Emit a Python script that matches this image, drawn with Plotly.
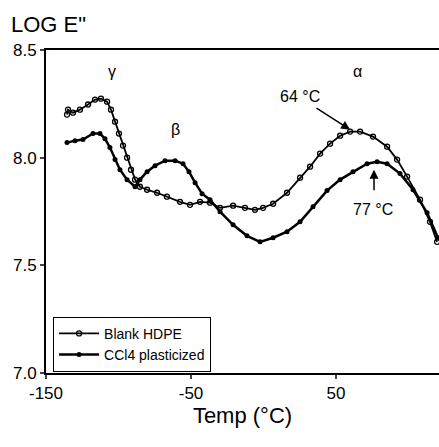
import plotly.graph_objects as go

blank_temp = [-135.5, -134.8, -131.4, -126.6, -121.0, -116.2, -112.1, -107.9, -105.2, -102.4,
              -99.7, -96.9, -94.1, -91.4, -88.6, -85.2, -80.3, -73.4, -66.6, -57.6,
              -50.7, -43.8, -36.9, -30.0, -21.0, -12.8, -5.9, -0.3, 6.6, 16.2,
              25.2, 32.1, 39.0, 45.9, 52.8, 59.7, 66.6, 75.5, 85.2, 92.1,
              99.0, 107.9, 114.8, 119.7]
blank_loge = [8.20, 8.223, 8.209, 8.223, 8.247, 8.270, 8.274, 8.260, 8.223, 8.167,
              8.112, 8.056, 8.0, 7.944, 7.898, 7.865, 7.851, 7.837, 7.819, 7.795,
              7.781, 7.795, 7.791, 7.767, 7.777, 7.767, 7.758, 7.767, 7.786, 7.837,
              7.907, 7.958, 8.019, 8.065, 8.102, 8.121, 8.121, 8.098, 8.051, 7.991,
              7.912, 7.805, 7.702, 7.609]

ccl4_temp = [-135.5, -130.0, -124.5, -117.6, -112.8, -109.3, -105.9, -102.4, -99.0, -94.1,
             -88.6, -85.2, -80.3, -74.8, -67.9, -61.0, -55.5, -51.4, -47.2, -42.4,
             -36.9, -30.0, -21.0, -11.4, -2.4, 6.6, 16.2, 25.2, 34.1, 43.8,
             52.8, 61.7, 71.4, 78.3, 85.2, 94.1, 103.1, 112.8, 120.3]
ccl4_loge = [8.070, 8.079, 8.084, 8.112, 8.112, 8.088, 8.047, 7.991, 7.944, 7.898,
             7.865, 7.898, 7.935, 7.963, 7.986, 7.986, 7.972, 7.935, 7.884, 7.833,
             7.805, 7.749, 7.688, 7.637, 7.609, 7.628, 7.656, 7.702, 7.772, 7.847,
             7.898, 7.935, 7.972, 7.981, 7.972, 7.926, 7.851, 7.744, 7.628]

x_ticks = [-150, -50, 50]
x_tick_labels = ["-150", "-50", "50"]
y_ticks = [7.0, 7.5, 8.0, 8.5]
y_tick_labels = ["7.0", "7.5", "8.0", "8.5"]

FONT = "Liberation Sans, Arial, sans-serif"

fig = go.Figure()
fig.add_trace(go.Scatter(
    x=blank_temp, y=blank_loge, mode="lines+markers", name="Blank HDPE",
    line=dict(color="black", width=1.8),
    marker=dict(symbol="circle-open", size=5, color="black", line=dict(width=1.3)),
))
fig.add_trace(go.Scatter(
    x=ccl4_temp, y=ccl4_loge, mode="lines+markers", name="CCl4 plasticized",
    line=dict(color="black", width=2.5),
    marker=dict(symbol="circle", size=5, color="black"),
))

ann = [
    dict(x=-104.5, y=8.40, text="γ", showarrow=False, font=dict(size=16)),
    dict(x=-61, y=8.13, text="β", showarrow=False, font=dict(size=16)),
    dict(x=64.5, y=8.40, text="α", showarrow=False, font=dict(size=16)),
    dict(x=25.2, y=8.286, text="64 °C", showarrow=False, font=dict(size=16)),
    dict(x=75.5, y=7.758, text="77 °C", showarrow=False, font=dict(size=16)),
    dict(x=59.7, y=8.130, ax=35.5, ay=8.235, axref="x", ayref="y", text="",
         showarrow=True, arrowhead=2, arrowsize=1.2, arrowwidth=1.5, arrowcolor="black"),
    dict(x=76.2, y=7.944, ax=76.2, ay=7.842, axref="x", ayref="y", text="",
         showarrow=True, arrowhead=2, arrowsize=1.2, arrowwidth=1.5, arrowcolor="black"),
    dict(xref="paper", yref="paper", x=-0.094, y=1.125, xanchor="left", yanchor="top",
         text='LOG E"', showarrow=False, font=dict(size=22)),
]

fig.update_layout(
    width=439, height=447,
    margin=dict(l=46, r=0, t=50, b=74),
    paper_bgcolor="white", plot_bgcolor="white",
    font=dict(family=FONT, color="black", size=16),
    showlegend=True,
    legend=dict(x=0.018, y=0.174, xanchor="left", yanchor="top",
                bordercolor="black", borderwidth=1, bgcolor="white",
                font=dict(size=14), tracegroupgap=0, itemwidth=40),
    annotations=ann,
    xaxis=dict(range=[-150, 121], tickvals=x_ticks, ticktext=x_tick_labels,
               ticks="outside", ticklen=4,
               tickwidth=1.5, showline=True, linecolor="black", linewidth=2,
               mirror=True, showgrid=False, zeroline=False,
               title=dict(text="Temp (°C)", font=dict(size=22), standoff=2),
               tickfont=dict(size=17)),
    yaxis=dict(range=[7.0, 8.5], tickvals=y_ticks, ticktext=y_tick_labels,
               ticks="outside", ticklen=4, tickwidth=1.5, showline=True,
               linecolor="black", linewidth=2, showgrid=False, zeroline=False,
               tickfont=dict(size=17)),
)

fig.write_html("out.html", config={"displayModeBar": False},
               post_script="document.body.style.margin='0';")
